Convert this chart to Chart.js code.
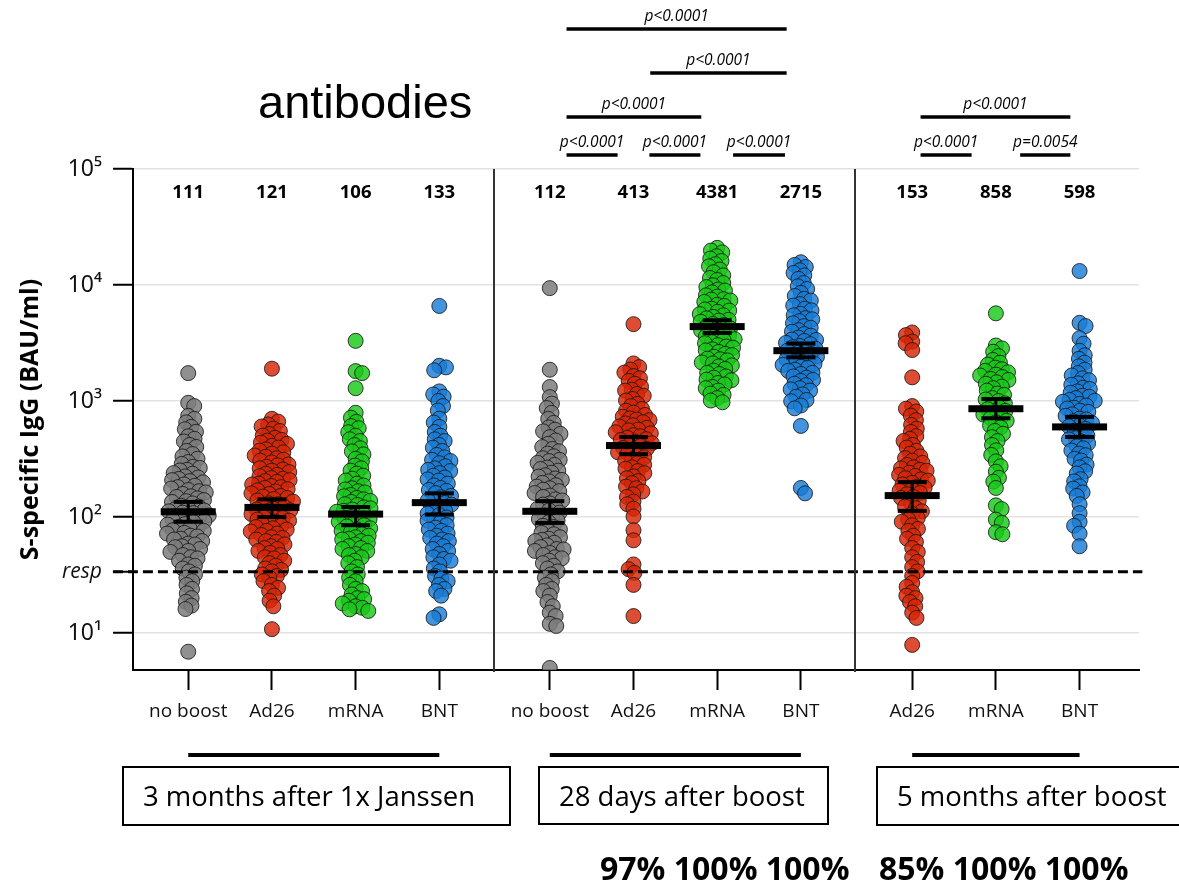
<!DOCTYPE html>
<html>
<head>
<meta charset="utf-8">
<script src="https://cdn.jsdelivr.net/npm/chart.js@4.4.1/dist/chart.umd.min.js"></script>
<style>
  html, body { margin: 0; padding: 0; background: #fff; }
  #wrap { position: relative; width: 1179px; height: 884px; overflow: hidden; }
  #wrap canvas { position: absolute; left: 0; top: 0; }
  .txt { position: absolute; white-space: nowrap; color: #000; }
  .box { position: absolute; border: 2px solid #000; box-sizing: border-box; }
</style>
</head>
<body>
<div id="wrap">
  <canvas id="chart" width="1179" height="884"></canvas>
  <div class="txt" style="left:258px;top:78px;font:47px/47px 'Liberation Sans',Arial,sans-serif;">antibodies</div>
  <div class="box" style="left:122px;top:766px;width:389px;height:60px;"></div>
  <div class="box" style="left:538px;top:766px;width:291px;height:59px;"></div>
  <div class="box" style="left:876px;top:766px;width:320px;height:60px;"></div>
  <div class="txt" style="left:143px;top:782px;font:27.5px/27.5px 'Open Sans',sans-serif;">3 months after 1x Janssen</div>
  <div class="txt" style="left:559px;top:782px;font:27.5px/27.5px 'Open Sans',sans-serif;">28 days after boost</div>
  <div class="txt" style="left:897px;top:782px;font:27.5px/27.5px 'Open Sans',sans-serif;">5 months after boost</div>
  <div class="txt" style="left:600px;top:852px;font:bold 32px/32px 'Open Sans',sans-serif;">97% 100% 100%</div>
  <div class="txt" style="left:879px;top:852px;font:bold 32px/32px 'Open Sans',sans-serif;">85% 100% 100%</div>
</div>
<script>
// ---- data ----
const categories = ['no boost', 'Ad26', 'mRNA', 'BNT', 'no boost', 'Ad26', 'mRNA', 'BNT', 'Ad26', 'mRNA', 'BNT'];
const gmt = [111, 121, 106, 133, 112, 413, 4381, 2715, 153, 858, 598];
const ciLow = [91, 100, 85, 105, 89, 348, 3860, 2380, 113, 710, 490];
const ciHigh = [135, 142, 122, 160, 137, 489, 4970, 3130, 200, 1040, 730];
const respLevel = 33.8;
const yTicks = [10, 100, 1000, 10000, 100000];

const s1NoBoost = [1740, 965, 905, 745, 702, 655, 598, 571, 543, 497, 472, 448, 418, 402, 371, 349, 333, 318, 298, 287, 271, 265, 255, 252, 239, 236, 224, 219, 213, 208, 204, 199, 191, 186, 181, 176, 171, 167, 163, 158, 151, 149, 145, 140, 137, 135, 131, 125, 123, 118, 117, 114, 112, 109, 108, 103, 100, 98, 97, 94, 92, 90, 87, 86, 82, 81, 79, 77, 76, 73, 72, 69, 68, 65, 64, 62, 59, 58, 56, 55, 53, 51, 50, 47, 45, 44, 42, 39, 38, 36, 34, 32, 30, 28, 26, 24, 22, 20, 18.6, 17.2, 16.1, 6.9];
const s1Ad26 = [1900, 702, 664, 628, 603, 578, 552, 519, 503, 482, 463, 456, 438, 427, 411, 397, 383, 373, 361, 352, 339, 331, 321, 312, 306, 296, 284, 279, 271, 263, 257, 251, 244, 236, 231, 225, 217, 214, 208, 204, 201, 194, 191, 185, 181, 178, 174, 170, 166, 160, 158, 152, 150, 146, 143, 139, 136, 131, 129, 125, 122, 118, 116, 114, 112, 108, 106, 102, 99, 98, 95, 93, 91, 89, 86, 84, 82, 80, 78, 76, 75, 72, 70, 67, 66, 64, 62, 61, 58, 56, 54, 53, 51, 49, 47, 45, 44, 42, 40, 38, 36, 35, 34, 32, 31, 30, 28, 26, 24.5, 23, 21, 19, 17, 10.8];
const s1Mrna = [3300, 1810, 1740, 1290, 792, 718, 662, 608, 583, 538, 502, 468, 452, 417, 392, 368, 347, 318, 302, 278, 263, 251, 237, 227, 214, 206, 194, 187, 177, 173, 167, 163, 155, 151, 146, 142, 138, 135, 129, 127, 121, 119, 116, 113, 111, 106, 104, 100, 98, 96, 93, 91, 87, 85, 83, 80, 78, 76, 74, 71, 69, 67, 65, 64, 62, 60, 58, 56, 54, 53, 51, 48, 47, 45, 42, 40, 37, 34, 32, 30, 28, 26, 24, 23, 21.5, 20, 19.6, 19, 18, 17, 16.5, 16, 15.5];
const s1Bnt = [6600, 2010, 1950, 1840, 1210, 1140, 1090, 1000, 905, 828, 705, 652, 598, 541, 503, 468, 452, 418, 396, 371, 343, 327, 311, 304, 291, 274, 263, 255, 249, 239, 227, 219, 211, 206, 194, 187, 178, 171, 168, 161, 152, 148, 141, 139, 132, 128, 121, 117, 113, 107, 104, 99, 95, 93, 89, 85, 81, 78, 76, 72, 69, 66, 64, 62, 59, 56, 53, 51, 48, 45, 43.5, 42, 39, 36, 34, 31, 29.5, 28, 26, 24, 23, 21, 14.5, 13.5];
const s2NoBoost = [9400, 1860, 1320, 1080, 950, 870, 790, 702, 648, 592, 566, 548, 521, 488, 457, 428, 401, 386, 369, 352, 334, 321, 311, 304, 293, 281, 267, 259, 251, 241, 229, 223, 215, 209, 203, 197, 188, 183, 177, 172, 167, 161, 153, 149, 142, 139, 131, 128, 121, 118, 114, 109, 103, 101, 96, 93, 90, 84, 82, 78, 76, 73, 71, 67, 65, 63.5, 62, 60, 57, 55, 53, 52.5, 51, 49, 47, 45, 44, 42, 40, 38, 36, 34, 32, 30, 28, 26, 24, 23, 21, 18.5, 17, 15, 14, 12, 11.5, 5.0];
const s2Ad26 = [4600, 2110, 1960, 1870, 1760, 1640, 1570, 1490, 1410, 1330, 1250, 1230, 1150, 1110, 1040, 1010, 945, 905, 855, 825, 795, 758, 733, 708, 692, 684, 657, 641, 618, 603, 588, 567, 558, 538, 527, 508, 497, 481, 469, 461, 446, 433, 418, 409, 394, 387, 377, 361, 352, 337, 327, 313, 306, 291, 282, 268, 261, 249, 239, 224, 216, 204, 196, 183, 177, 166, 157, 149, 136, 129, 118, 101, 77, 63, 39, 35.5, 33, 26, 14];
const s2Mrna = [20900, 19800, 19100, 17700, 16900, 16100, 15100, 14500, 13600, 12900, 12100, 11500, 11050, 10400, 9950, 9600, 9150, 8950, 8650, 8150, 7950, 7550, 7480, 7350, 7150, 6750, 6600, 6250, 6150, 6020, 5880, 5620, 5480, 5310, 5160, 5010, 4930, 4820, 4620, 4520, 4390, 4240, 4170, 4060, 3920, 3820, 3690, 3610, 3480, 3410, 3340, 3210, 3150, 3030, 2950, 2880, 2790, 2730, 2650, 2550, 2490, 2410, 2320, 2290, 2240, 2150, 2110, 2030, 1990, 1890, 1830, 1750, 1710, 1630, 1590, 1530, 1510, 1430, 1390, 1320, 1290, 1230, 1160, 1130, 1060, 1010, 975];
const s2Bnt = [15700, 14900, 14300, 13400, 12700, 12100, 11300, 10400, 9750, 9250, 8550, 8050, 7600, 7350, 6850, 6650, 6250, 6050, 5650, 5480, 5180, 5060, 4880, 4680, 4420, 4280, 4080, 3960, 3780, 3660, 3520, 3390, 3360, 3290, 3170, 3090, 2980, 2910, 2830, 2750, 2710, 2610, 2550, 2460, 2410, 2330, 2290, 2230, 2170, 2090, 2050, 1970, 1930, 1860, 1820, 1750, 1710, 1630, 1590, 1520, 1490, 1410, 1370, 1290, 1260, 1230, 1140, 1090, 1020, 995, 915, 865, 610, 178, 160];
const s3Ad26 = [3900, 3700, 3250, 3150, 2750, 1600, 905, 858, 812, 748, 684, 622, 578, 541, 498, 472, 452, 418, 397, 372, 351, 333, 322, 306, 293, 281, 268, 263, 255, 251, 241, 231, 226, 216, 211, 206, 197, 191, 183, 179, 172, 169, 161, 157, 149, 146, 138, 131, 123, 119, 112, 106, 98, 95, 91, 85, 79, 76, 69, 65, 61, 54, 50, 45, 41, 37, 34, 31, 27, 25, 22.5, 21, 20, 18.5, 17, 15, 13.5, 7.9];
const s3Mrna = [5700, 3010, 2840, 2660, 2440, 2260, 2140, 2060, 1940, 1880, 1820, 1770, 1690, 1660, 1610, 1550, 1520, 1450, 1410, 1330, 1290, 1230, 1160, 1130, 1060, 1030, 1000, 955, 925, 875, 850, 822, 785, 765, 732, 712, 675, 655, 615, 592, 552, 522, 488, 452, 418, 376, 343, 302, 274, 246, 218, 202, 178, 126, 117, 95, 89, 74, 71];
const s3Bnt = [13200, 4720, 4430, 3480, 3120, 2710, 2480, 2310, 2140, 1990, 1860, 1740, 1660, 1570, 1510, 1420, 1380, 1300, 1270, 1210, 1180, 1110, 1090, 1060, 1020, 1005, 985, 945, 915, 875, 862, 825, 805, 768, 745, 705, 694, 668, 645, 612, 603, 575, 556, 522, 503, 478, 467, 447, 432, 406, 391, 374, 352, 341, 318, 307, 283, 268, 248, 237, 212, 203, 184, 176, 163, 152, 129, 108, 91, 84, 72, 56];

const groups = [s1NoBoost, s1Ad26, s1Mrna, s1Bnt, s2NoBoost, s2Ad26, s2Mrna, s2Bnt, s3Ad26, s3Mrna, s3Bnt];

// significance brackets: [from group, to group, row, label]
const brackets = [
  [4, 7, 0, 'p<0.0001'], [5, 7, 1, 'p<0.0001'], [4, 6, 2, 'p<0.0001'],
  [4, 5, 3, 'p<0.0001'], [5, 6, 3, 'p<0.0001'], [6, 7, 3, 'p<0.0001'],
  [8, 10, 2, 'p<0.0001'], [8, 9, 3, 'p<0.0001'], [9, 10, 3, 'p=0.0054']
];

// ---- layout / style ----
const groupX = [0, 1, 2, 3, 4.32, 5.32, 6.32, 7.32, 8.65, 9.65, 10.65];
const dividerX = [3.655, 7.97];
const sections = [[0, 3], [4, 7], [8, 10]];
const bracketInset = [[0.2, 0.17], [0.2, 0.17], [0.2, 0.19], [0.2, 0.19], [0.19, 0.2], [0.19, 0.19], [0.1, 0.11], [0.1, 0.29], [0.29, 0.11]];
const bracketRowY = [29, 73, 117, 155];
const palette = {
  grey: 'rgba(125,125,125,0.85)',
  red: 'rgba(215,38,6,0.82)',
  green: 'rgba(25,200,25,0.82)',
  blue: 'rgba(25,125,215,0.82)'
};
const groupColor = ['grey', 'red', 'green', 'blue', 'grey', 'red', 'green', 'blue', 'red', 'green', 'blue'];
const swarmGap = 6.8;
const sup = { '1': '\u00b9', '2': '\u00b2', '3': '\u00b3', '4': '\u2074', '5': '\u2075' };

Chart.defaults.font.family = "'Open Sans', sans-serif";
Chart.defaults.color = '#000';

const isResp = ctx => !!(ctx.tick && ctx.tick.value === respLevel);

function swarm(values, yScale, d) {
  const pts = values.map((v, i) => ({ i, y: yScale.getPixelForValue(v), x: 0 }));
  const sorted = pts.slice().sort((a, b) => a.y - b.y);
  const placed = [];
  sorted.forEach((p, k) => {
    const near = placed.filter(q => Math.abs(q.y - p.y) < d);
    const cands = [0];
    near.forEach(q => {
      const dx = Math.sqrt(d * d - (q.y - p.y) ** 2);
      cands.push(q.x + dx, q.x - dx);
    });
    const side = k % 2 ? 1 : -1;
    cands.sort((a, b) => Math.abs(a) - Math.abs(b) || side * (a - b));
    for (const c of cands) {
      if (near.every(q => (q.x - c) ** 2 + (q.y - p.y) ** 2 >= d * d - 0.01)) { p.x = c; break; }
    }
    placed.push(p);
  });
  return pts.map(p => p.x);
}

const overlay = {
  id: 'overlay',
  afterDatasetsDraw(chart) {
    const { ctx, scales: { x, y } } = chart;
    ctx.save();
    ctx.fillStyle = '#000';
    gmt.forEach((g, i) => {
      const cx = x.getPixelForValue(groupX[i]);
      const yg = y.getPixelForValue(g);
      const yl = y.getPixelForValue(ciLow[i]);
      const yh = y.getPixelForValue(ciHigh[i]);
      ctx.fillRect(cx - 1.5, yh, 3, yl - yh);
      ctx.fillRect(cx - 14.5, yh - 2, 29, 4);
      ctx.fillRect(cx - 14.5, yl - 2, 29, 4);
      ctx.fillRect(cx - 27.5, yg - 3.5, 55, 7);
    });
    ctx.restore();
  },
  afterDraw(chart) {
    const { ctx, chartArea, scales: { x } } = chart;
    ctx.save();
    // section dividers
    ctx.strokeStyle = '#333';
    ctx.lineWidth = 2;
    dividerX.forEach(v => {
      const px = Math.round(x.getPixelForValue(v));
      ctx.beginPath();
      ctx.moveTo(px, chartArea.top);
      ctx.lineTo(px, chartArea.bottom + 2);
      ctx.stroke();
    });
    // group means above the plot
    ctx.fillStyle = '#000';
    ctx.textAlign = 'center';
    ctx.textBaseline = 'alphabetic';
    ctx.font = "bold 18.5px 'Open Sans', sans-serif";
    gmt.forEach((g, i) => ctx.fillText(String(g), x.getPixelForValue(groupX[i]), 198));
    // significance brackets
    ctx.font = "italic 15.5px 'Open Sans', sans-serif";
    ctx.strokeStyle = '#000';
    ctx.lineWidth = 3.5;
    brackets.forEach(([a, b, row, label], k) => {
      const x0 = x.getPixelForValue(groupX[a] + bracketInset[k][0]);
      const x1 = x.getPixelForValue(groupX[b] - bracketInset[k][1]);
      const yy = bracketRowY[row];
      ctx.beginPath();
      ctx.moveTo(x0, yy);
      ctx.lineTo(x1, yy);
      ctx.stroke();
      ctx.fillText(label, (x0 + x1) / 2, yy - 8.5);
    });
    // section underlines
    ctx.lineWidth = 4;
    sections.forEach(([a, b]) => {
      ctx.beginPath();
      ctx.moveTo(x.getPixelForValue(groupX[a]), 755);
      ctx.lineTo(x.getPixelForValue(groupX[b]), 755);
      ctx.stroke();
    });
    ctx.restore();
  }
};

const datasets = groups.map((vals, g) => ({
  type: 'scatter',
  data: vals.map(v => ({ x: groupX[g], y: v })),
  backgroundColor: palette[groupColor[g]],
  borderColor: 'rgba(25,25,25,0.85)',
  borderWidth: 1,
  pointRadius: 7.5,
  order: 1
}));
datasets.push({
  type: 'line',
  data: [{ x: -0.9, y: respLevel }, { x: 11.4, y: respLevel }],
  borderColor: '#000',
  borderWidth: 3,
  borderDash: [10, 5],
  pointRadius: 0,
  showLine: true,
  clip: false,
  order: 0
});

const chart = new Chart(document.getElementById('chart'), {
  type: 'scatter',
  data: { datasets },
  options: {
    responsive: false,
    animation: false,
    events: [],
    devicePixelRatio: 1,
    layout: { padding: { left: 0, top: 169, right: 40, bottom: 0 } },
    plugins: { legend: { display: false }, tooltip: { enabled: false } },
    scales: {
      x: {
        type: 'linear',
        min: -0.66,
        max: 11.36,
        afterBuildTicks: s => { s.ticks = groupX.map(v => ({ value: v })); },
        afterFit: s => { s.height = 214; },
        ticks: {
          autoSkip: false,
          maxRotation: 0,
          padding: 10,
          color: '#111',
          font: { family: "'Open Sans', sans-serif", size: 19 },
          callback: (v, i) => categories[i]
        },
        grid: { drawOnChartArea: false, tickLength: 20, tickColor: '#000', tickWidth: 2 },
        border: { color: '#000', width: 2 }
      },
      y: {
        type: 'logarithmic',
        min: 4.8,
        max: 100000,
        afterBuildTicks: s => { s.ticks = yTicks.concat([respLevel]).map(v => ({ value: v })); },
        afterFit: s => { s.width = 133; },
        ticks: {
          autoSkip: false,
          padding: 11,
          color: '#111',
          font: {
            family: ctx => isResp(ctx) ? "'Open Sans', sans-serif" : "'Noto Sans', sans-serif",
            style: ctx => isResp(ctx) ? 'italic' : 'normal',
            size: ctx => isResp(ctx) ? 21 : 23
          },
          callback: v => v === respLevel ? 'resp' : '10' + sup[String(Math.round(Math.log10(v)))]
        },
        grid: {
          color: ctx => isResp(ctx) ? 'rgba(0,0,0,0)' : '#e2e2e2',
          lineWidth: 1.5,
          tickLength: 20,
          tickColor: '#000',
          tickWidth: 2
        },
        border: { color: '#000', width: 2 },
        title: {
          display: true,
          text: 'S-specific IgG (BAU/ml)',
          color: '#000',
          font: { family: "'Open Sans', sans-serif", weight: 'bold', size: 25 },
          padding: { top: 16, bottom: 0 }
        }
      }
    }
  },
  plugins: [overlay]
});

// spread each group's points sideways into a swarm
const xs = chart.scales.x, ys = chart.scales.y;
const pxPerUnit = xs.getPixelForValue(1) - xs.getPixelForValue(0);
groups.forEach((vals, g) => {
  const offs = swarm(vals, ys, swarmGap);
  chart.data.datasets[g].data = vals.map((v, i) => ({ x: groupX[g] + offs[i] / pxPerUnit, y: v }));
});
chart.update('none');
</script>
</body>
</html>
